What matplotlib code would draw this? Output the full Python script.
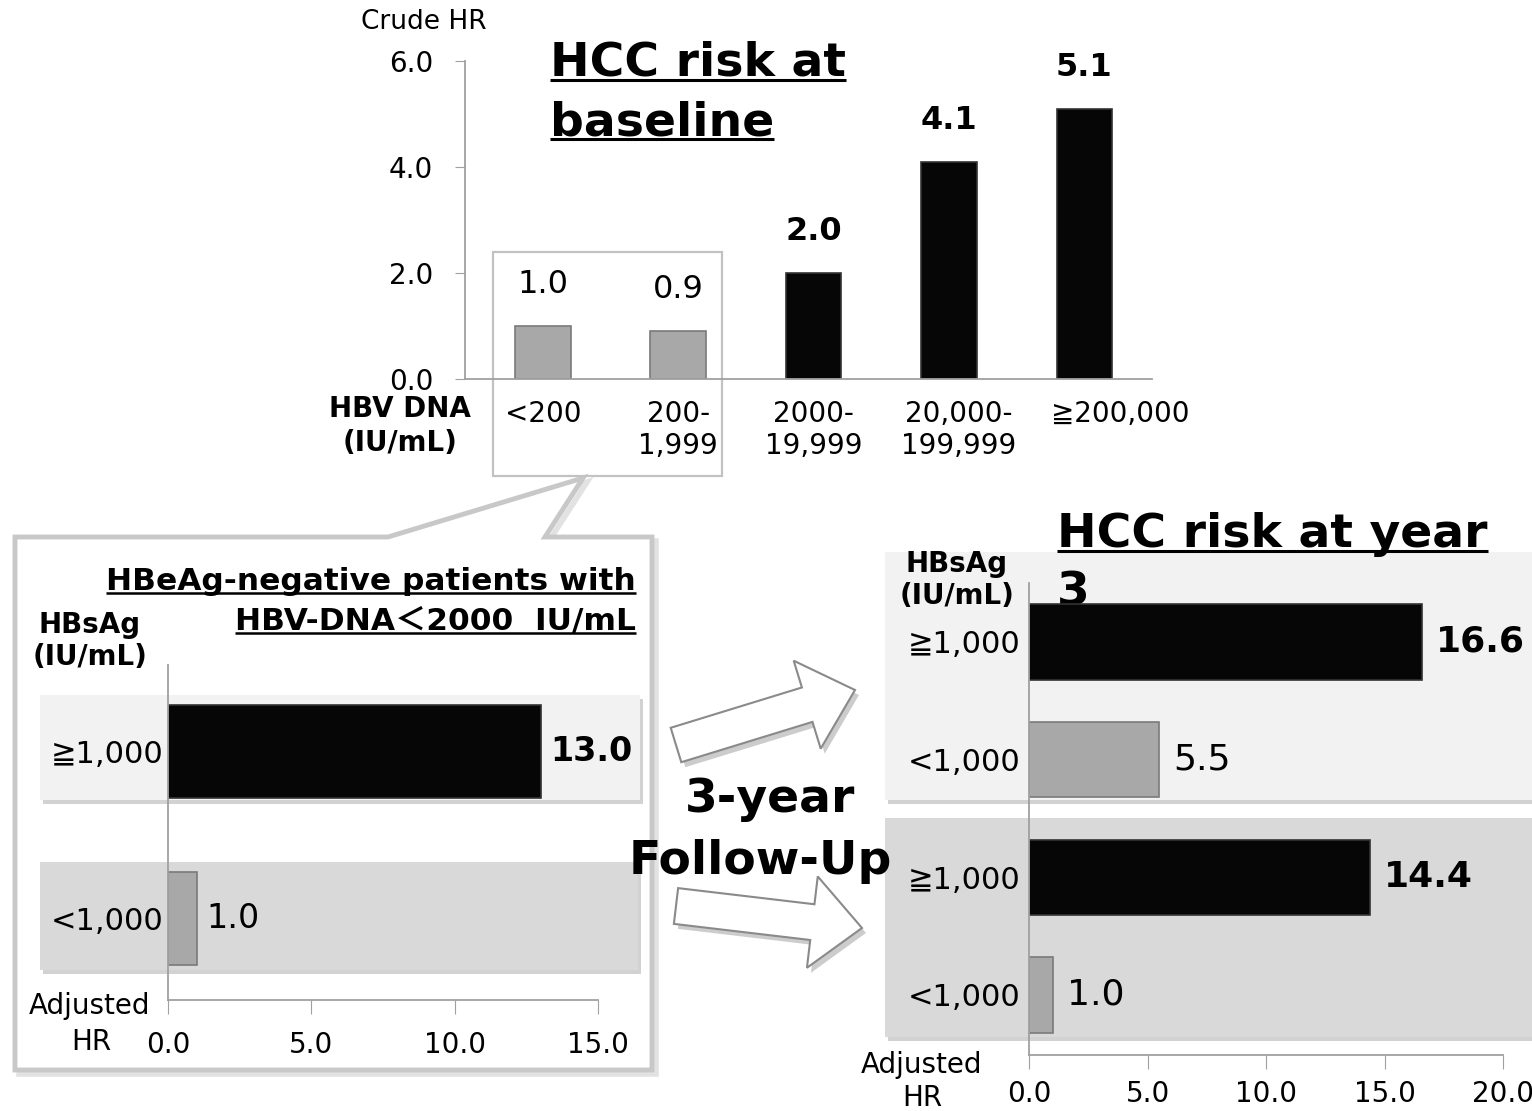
import matplotlib
matplotlib.use('Agg')
import matplotlib.pyplot as plt
from matplotlib.patches import Rectangle, Polygon, FancyArrow
from matplotlib.transforms import ScaledTranslation

plt.rcParams['font.family'] = ['DejaVu Sans', 'Noto Sans CJK JP']

# --- дані ---
# верхній графік: HBV DNA (IU/mL) -> crude HR
dna_labels = ['<200', '200-\n1,999', '2000-\n19,999', '20,000-\n199,999', '≧200,000']
crude_hr = [1.0, 0.9, 2.0, 4.1, 5.1]
crude_low = [True, True, False, False, False]  # сірі стовпчики

# нижній лівий: HBsAg на старті
base_labels = ['<1,000', '≧1,000']
base_hr = [1.0, 13.0]

# нижній правий: HBsAg на 3-му році
y3_labels = ['<1,000', '≧1,000', '<1,000', '≧1,000']
y3_hr = [1.0, 14.4, 5.5, 16.6]

W, H = 1532, 1111
BLACK = '#060606'
GRAY = '#a8a8a8'
SPINE = '#a0a0a0'

fig = plt.figure(figsize=(W / 100, H / 100), dpi=100)

# фонове полотно в пікселях (для рамок, стрілок, підписів)
bg = fig.add_axes([0, 0, 1, 1], zorder=0)
bg.set_xlim(0, W)
bg.set_ylim(H, 0)
bg.axis('off')


def px_axes(left, top, right, bottom):
    ax = fig.add_axes([left / W, 1 - bottom / H, (right - left) / W, (bottom - top) / H], zorder=2)
    ax.patch.set_alpha(0)
    for s in ['top', 'right']:
        ax.spines[s].set_visible(False)
    for s in ['left', 'bottom']:
        ax.spines[s].set_color(SPINE)
        ax.spines[s].set_linewidth(1.3)
    return ax


def band(x, y, w, h, color):
    bg.add_patch(Rectangle((x + 3, y + 4), w, h, fc='#d2d2d2', ec='none', zorder=1))
    bg.add_patch(Rectangle((x, y), w, h, fc=color, ec='none', zorder=2))


# ---------- верхній графік ----------
ax1 = px_axes(465, 61, 1152, 379)
xs = range(len(crude_hr))
ax1.bar(xs, crude_hr, width=0.41,
        color=[GRAY if g else BLACK for g in crude_low],
        edgecolor=['#7a7a7a' if g else '#333333' for g in crude_low], linewidth=1.2)
ax1.set_xlim(-0.575, 4.5)
ax1.set_ylim(0, 6)
ax1.set_yticks([0, 2, 4, 6])
ax1.set_yticklabels(['0.0', '2.0', '4.0', '6.0'])
ax1.tick_params(axis='y', length=7, color=SPINE, labelsize=20, pad=16)
ax1.set_xticks(list(xs))
ax1.set_xticklabels(dna_labels)
ax1.tick_params(axis='x', length=0, labelsize=20, pad=15)
# зсув двох правих підписів, як в оригіналі
for lab, dx in zip(ax1.get_xticklabels(), [0, 0, 0, 10, 36]):
    lab.set_transform(lab.get_transform() + ScaledTranslation(dx / 100, 0, fig.dpi_scale_trans))
for x, v, low in zip(xs, crude_hr, crude_low):
    ax1.annotate(f'{v:.1f}', (x, v), xytext=(0, 30), textcoords='offset points',
                 ha='center', va='center', fontsize=23,
                 fontweight='normal' if low else 'bold')

bg.text(424, 22, 'Crude HR', ha='center', va='center', fontsize=19)
bg.text(400, 426, 'HBV DNA\n(IU/mL)', ha='center', va='center', fontsize=20,
        fontweight='bold', linespacing=1.25)
bg.add_patch(Rectangle((493, 252), 229, 224, fill=False, ec='#c2c2c2', lw=1.6, zorder=3))

# ---------- рамка-виноска знизу ліворуч ----------
callout = [(15, 537), (388, 537), (583, 478), (545, 537), (652, 537), (652, 1070), (15, 1070)]
bg.add_patch(Polygon([(x + 4, y + 4) for x, y in callout], closed=True, fill=False,
                     ec='#e2e2e2', lw=4, zorder=1))
bg.add_patch(Polygon(callout, closed=True, fc='white', ec='#c8c8c8', lw=3.5, zorder=1))

band(40, 695, 600, 105, '#f2f2f2')
band(40, 862, 598, 108, '#d9d9d9')

ax2 = px_axes(168, 665, 598, 1000)
ax2.barh([0, 1], base_hr, height=0.557, color=[GRAY, BLACK],
         edgecolor=['#7a7a7a', '#333333'], linewidth=1.2)
ax2.set_xlim(0, 15)
ax2.set_ylim(-0.49, 1.515)
ax2.set_xticks([0, 5, 10, 15])
ax2.set_xticklabels(['0.0', '5.0', '10.0', '15.0'])
ax2.tick_params(axis='x', length=10, color=SPINE, labelsize=20, pad=12)
ax2.set_yticks([0, 1])
ax2.set_yticklabels(base_labels)
ax2.tick_params(axis='y', length=0, labelsize=22, pad=3)
for i, v in enumerate(base_hr):
    ax2.annotate(f'{v:.1f}', (v, i), xytext=(7, 0), textcoords='offset points',
                 ha='left', va='center', fontsize=24,
                 fontweight='bold' if v > 5 else 'normal')

bg.text(90, 641, 'HBsAg\n(IU/mL)', ha='center', va='center', fontsize=20,
        fontweight='bold', linespacing=1.2)
bg.text(90, 1006, 'Adjusted', ha='center', va='center', fontsize=20)
bg.text(91, 1042, 'HR', ha='center', va='center', fontsize=20)

# ---------- стрілки та підпис посередині ----------
for (x0, y0, dx, dy) in [(676, 745, 179, -55), (676, 906, 186, 22)]:
    kw = dict(width=36, head_width=92, head_length=50, length_includes_head=True)
    bg.add_patch(FancyArrow(x0 + 4, y0 + 5, dx, dy, fc='#cccccc', ec='none', zorder=3, **kw))
    bg.add_patch(FancyArrow(x0, y0, dx, dy, fc='white', ec='#8a8a8a', lw=1.5, zorder=4, **kw))

bg.text(770, 800, '3-year', ha='center', va='center', fontsize=34, fontweight='bold', zorder=6)
bg.text(760, 862, 'Follow-Up', ha='center', va='center', fontsize=34, fontweight='bold', zorder=6)

# ---------- нижній правий графік ----------
band(885, 552, 647, 248, '#f2f2f2')
band(885, 818, 647, 219, '#d9d9d9')

ax3 = px_axes(1029, 583, 1503, 1055)
ax3.barh(range(4), y3_hr, height=0.64,
         color=[GRAY, BLACK, GRAY, BLACK],
         edgecolor=['#7a7a7a', '#333333', '#7a7a7a', '#333333'], linewidth=1.2)
ax3.set_xlim(0, 20)
ax3.set_ylim(-0.51, 3.5)
ax3.set_xticks([0, 5, 10, 15, 20])
ax3.set_xticklabels(['0.0', '5.0', '10.0', '15.0', '20.0'])
ax3.tick_params(axis='x', length=10, color=SPINE, labelsize=20, pad=8)
ax3.set_yticks(range(4))
ax3.set_yticklabels(y3_labels)
ax3.tick_params(axis='y', length=0, labelsize=22, pad=6)
for i, v in enumerate(y3_hr):
    ax3.annotate(f'{v:.1f}', (v, i), xytext=(10, 0), textcoords='offset points',
                 ha='left', va='center', fontsize=26,
                 fontweight='bold' if v > 10 else 'normal')

bg.text(957, 580, 'HBsAg\n(IU/mL)', ha='center', va='center', fontsize=20,
        fontweight='bold', linespacing=1.2, zorder=6)
bg.text(922, 1065, 'Adjusted', ha='center', va='center', fontsize=20)
bg.text(922, 1098, 'HR', ha='center', va='center', fontsize=20)

# ---------- заголовки з підкресленням ----------
titles = [
    (550, 76, 'HCC risk at', 'left', 34, True),
    (550, 135, 'baseline', 'left', 34, True),
    (636, 590, 'HBeAg-negative patients with', 'right', 22.5, True),
    (636, 630, 'HBV-DNA＜2000  IU/mL', 'right', 22.5, True),
    (1057, 547, 'HCC risk at year', 'left', 34, True),
    (1057, 606, '3', 'left', 34, False),
]
made = []
for x, y, s, ha, fs, ul in titles:
    t = bg.text(x, y, s, ha=ha, va='baseline', fontsize=fs, fontweight='bold', zorder=6)
    made.append((t, y, fs, ul))

fig.canvas.draw()
renderer = fig.canvas.get_renderer()
for t, y, fs, ul in made:
    if not ul:
        continue
    bb = t.get_window_extent(renderer)
    uy = y + fs * 0.12
    bg.plot([bb.x0, bb.x1], [uy, uy], color='black', lw=2.2 if fs > 30 else 1.8, zorder=6,
            solid_capstyle='butt')

fig.savefig('out.png', dpi=100)
